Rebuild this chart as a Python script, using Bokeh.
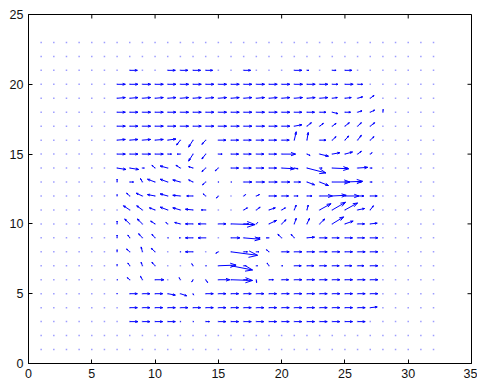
import numpy as np
from bokeh.plotting import figure
from bokeh.models import Range1d, FixedTicker
from bokeh.embed import file_html
from bokeh.resources import INLINE

# ---------------- data ----------------
X_TICKS = [0, 5, 10, 15, 20, 25, 30, 35]
Y_TICKS = [0, 5, 10, 15, 20, 25]

GRID_X = [1, 2, 3, 4, 5, 6, 7, 8, 9, 10, 11, 12, 13, 14, 15, 16,
          17, 18, 19, 20, 21, 22, 23, 24, 25, 26, 27, 28, 29, 30, 31, 32]
GRID_Y = [1, 2, 3, 4, 5, 6, 7, 8, 9, 10, 11, 12, 13, 14, 15, 16,
          17, 18, 19, 20, 21, 22, 23]

# columns x = 7 .. 28 carry the measured vectors (others are zero)
FIELD_X = [7, 8, 9, 10, 11, 12, 13, 14, 15, 16, 17, 18, 19, 20, 21, 22, 23, 24, 25, 26, 27, 28]

u_y21 = [0, .6, 0, 0, .6, .6, .6, .55, 0, 0, .55, 0, 0, 0, .6, .15, 0, .3, .55, 0, 0, 0]
v_y21 = [0, 0, 0, 0, 0, 0, 0, 0, 0, 0, 0, 0, 0, 0, 0, 0, 0, 0, 0, 0, 0, 0]

u_y20 = [.65, .65, .65, .65, .65, .65, .65, .65, .65, .65, .65, .65, .65, .65, .65, .65, .65, .45, .65, .4, 0, 0]
v_y20 = [0, 0, 0, 0, 0, 0, 0, 0, 0, 0, 0, 0, 0, 0, 0, 0, 0, 0, 0, 0, 0, 0]

u_y19 = [.65, .65, .65, .65, .65, .65, .65, .65, .65, .65, .65, .65, .65, .65, .65, .65, .65, .4, .5, .4, .3, 0]
v_y19 = [.05, .05, .05, .05, .05, .05, .05, .05, .05, .05, .05, .05, .05, .05, .05, .05, .05, .05, .05, .1, .2, 0]

u_y18 = [.65, .65, .65, .65, .65, .65, .65, .65, .65, .65, .65, .65, .65, .65, .6, .6, .5, .45, .45, .35, .35, .02]
v_y18 = [0, 0, 0, 0, 0, 0, 0, 0, 0, 0, 0, 0, 0, 0, 0, 0, 0, -.1, 0, .1, .15, .2]

u_y17 = [.65, .65, .65, .65, .65, .65, .65, .65, .65, .65, .65, .65, .65, .65, .6, .35, .3, .3, .35, .3, .35, 0]
v_y17 = [0, 0, 0, 0, 0, 0, 0, 0, 0, 0, 0, 0, 0, 0, .1, .25, .2, .2, .25, .25, .25, 0]

u_y16 = [.65, .65, .65, .65, .65, -.3, -.35, -.3, .6, .6, .6, .6, .6, .6, .15, .1, .5, .3, .3, .3, .3, 0]
v_y16 = [.05, .05, .05, .05, .08, -.35, -.5, -.3, 0, 0, 0, 0, 0, 0, .6, .55, 0, .25, .3, .35, .25, 0]

u_y15 = [.65, .65, .65, .65, .3, -.25, -.35, -.3, .3, .6, .6, .6, .6, 1.1, 0, .25, .7, .6, .6, .3, .15, 0]
v_y15 = [0, 0, 0, 0, 0, 0, -.5, -.35, 0, 0, 0, 0, 0, 0, 0, -.1, -.15, .1, .15, .2, .1, 0]

u_y14 = [.7, .7, .15, -.25, -.6, -.35, -.35, -.3, -.25, .6, .6, .6, .6, 1.0, .3, 1.5, .2, 1.3, .2, .8, .15, 0]
v_y14 = [-.1, -.1, 0, .2, .15, .2, .1, -.25, -.2, 0, 0, 0, 0, -.05, -.05, -.35, 0, -.05, 0, .05, 0, 0]

u_y13 = [0, .3, -.15, -.6, -.6, -.6, -.35, -.25, .05, .05, .65, .65, .65, .65, .5, .6, .7, 1.4, 1.4, .3, .15, 0]
v_y13 = [.2, 0, .25, .2, .2, .15, .15, -.2, 0, 0, 0, 0, 0, 0, 0, -.2, -.25, 0, .05, 0, 0, 0]

u_y12 = [0, -.25, -.5, -.6, -.6, -.6, -.5, -.2, -.15, 0, .15, .25, .6, .55, .3, .4, 1.0, 1.1, 1.1, .5, .55, 0]
v_y12 = [.1, .2, .2, .1, .15, .05, 0, .15, -.15, 0, .1, .1, 0, 0, 0, 0, 0, .05, 0, 0, 0, 0]

u_y11 = [0, -.5, -.45, -.45, -.6, -.6, -.6, -.35, 0, 0, .3, .3, .5, .3, .15, .1, .9, 1.05, 1.0, .55, .25, 0]
v_y11 = [0, .3, .3, .15, .2, .15, .05, 0, 0, 0, .15, .2, .15, .15, .35, .35, .45, .55, .5, .1, .3, 0]

u_y10 = [0, -.4, -.4, -.35, -.15, -.45, -.6, -.6, .6, 1.9, .4, .1, .6, .35, .15, .2, .4, .9, .65, .55, .55, 0]
v_y10 = [.2, .35, .35, .2, .1, .1, 0, 0, 0, -.05, 0, .1, .25, .3, .4, .4, .35, .5, .2, 0, .05, 0]

u_y9 = [0, -.15, -.3, -.25, .05, -.1, -.6, -.6, 0, .7, 1.3, .3, -.2, -.3, -.25, .6, .6, .55, .6, .55, .6, 0]
v_y9 = [.2, .2, .3, .25, 0, 0, 0, 0, 0, 0, -.1, 0, 0, .25, .25, .05, 0, 0, 0, 0, 0, 0]

u_y8 = [0, -.25, -.1, -.3, 0, .05, -.6, 0, -.2, 2.1, .3, .2, -.2, .6, .6, .6, .6, .6, .6, .6, .6, 0]
v_y8 = [.15, .2, .35, .25, 0, 0, 0, 0, -.1, -.25, 0, 0, .15, 0, 0, 0, 0, 0, 0, 0, 0, 0]

u_y7 = [0, -.15, -.1, -.25, 0, 0, -.1, .05, 1.4, 1.7, .2, .1, -.15, .1, .55, .55, .55, .55, .55, .5, .6, 0]
v_y7 = [.1, .2, .25, .25, 0, 0, .15, 0, .05, -.3, 0, 0, .2, 0, 0, 0, 0, 0, 0, 0, 0, 0]

u_y6 = [.05, -.2, -.15, .7, 0, -.1, -.1, .15, .9, 1.7, .3, .02, .35, .55, .6, .6, .6, .6, .6, .6, .6, 0]
v_y6 = [0, .15, .25, 0, 0, .15, -.15, -.2, 0, -.05, 0, -.2, 0, 0, 0, 0, 0, 0, 0, 0, 0, 0]

u_y5 = [0, .6, .6, .6, .6, .5, .05, .6, .6, .6, .6, .6, .6, .6, .6, .6, .6, .6, .6, .6, .6, 0]
v_y5 = [.05, 0, 0, 0, -.1, -.15, -.1, 0, 0, 0, 0, 0, 0, 0, 0, 0, 0, 0, 0, 0, 0, 0]

u_y4 = [0, .6, .6, .6, .6, .6, .6, .6, .6, .6, .6, .6, .6, .6, .6, .6, .6, .6, .6, .6, .55, 0]
v_y4 = [0, 0, 0, 0, 0, 0, 0, 0, 0, 0, 0, 0, 0, 0, 0, 0, 0, 0, 0, 0, .05, 0]

u_y3 = [0, .65, .6, .6, .6, .05, .05, .3, .6, .6, .6, .6, .6, .6, .6, .6, .6, .6, .6, .6, 0, 0]
v_y3 = [0, 0, 0, 0, 0, 0, 0, 0, 0, 0, 0, 0, 0, 0, 0, 0, 0, 0, 0, 0, 0, 0]

FIELD_ROWS = {
    21: (u_y21, v_y21), 20: (u_y20, v_y20), 19: (u_y19, v_y19), 18: (u_y18, v_y18),
    17: (u_y17, v_y17), 16: (u_y16, v_y16), 15: (u_y15, v_y15), 14: (u_y14, v_y14),
    13: (u_y13, v_y13), 12: (u_y12, v_y12), 11: (u_y11, v_y11), 10: (u_y10, v_y10),
    9: (u_y9, v_y9), 8: (u_y8, v_y8), 7: (u_y7, v_y7), 6: (u_y6, v_y6),
    5: (u_y5, v_y5), 4: (u_y4, v_y4), 3: (u_y3, v_y3),
}

# ---------------- build quiver segments ----------------
ALPHA = 0.33   # head length relative to vector
BETA = 0.33    # head half-width relative to vector
EPS = 1e-9

x0s, y0s, x1s, y1s = [], [], [], []
for yv, (urow, vrow) in FIELD_ROWS.items():
    for xv, u, v in zip(FIELD_X, urow, vrow):
        if u == 0 and v == 0:
            continue
        hx, hy = xv + u, yv + v
        x0s.append(xv); y0s.append(yv); x1s.append(hx); y1s.append(hy)
        bx1 = hx - ALPHA * (u + BETA * (v + EPS))
        by1 = hy - ALPHA * (v - BETA * (u + EPS))
        bx2 = hx - ALPHA * (u - BETA * (v + EPS))
        by2 = hy - ALPHA * (v + BETA * (u + EPS))
        x0s += [bx1, bx2]; y0s += [by1, by2]
        x1s += [hx, hx]; y1s += [hy, hy]

gx, gy = np.meshgrid(GRID_X, GRID_Y)

# ---------------- figure ----------------
p = figure(width=477, height=385, x_range=Range1d(0, 35), y_range=Range1d(0, 25),
           output_backend="svg", toolbar_location=None,
           min_border_left=28, min_border_right=6, min_border_top=14, min_border_bottom=22)
p.xgrid.visible = False
p.ygrid.visible = False
p.outline_line_color = "black"
p.outline_line_width = 1
p.background_fill_color = "white"
p.border_fill_color = "white"

p.scatter(gx.ravel(), gy.ravel(), marker="square", size=1.5, fill_color="#3b3bff",
          fill_alpha=0.5, line_color=None)
p.segment(x0s, y0s, x1s, y1s, line_color="#0000ff", line_width=1)

# inward ticks on the top and right edges of the box (MATLAB style)
p.ray(x=X_TICKS, y=[25] * len(X_TICKS), length=4, length_units="screen",
      angle=-np.pi / 2, line_color="black", line_width=1)
p.ray(x=[35] * len(Y_TICKS), y=Y_TICKS, length=4, length_units="screen",
      angle=np.pi, line_color="black", line_width=1)

FONT = "Liberation Sans"
for ax, ticks in ((p.xaxis[0], X_TICKS), (p.yaxis[0], Y_TICKS)):
    ax.ticker = FixedTicker(ticks=ticks)
    ax.major_tick_in = 4
    ax.major_tick_out = 0
    ax.minor_tick_line_color = None
    ax.axis_line_color = "black"
    ax.major_tick_line_color = "black"
    ax.major_label_text_font = FONT
    ax.major_label_text_font_size = "12.5px"
    ax.major_label_text_color = "#111111"
p.xaxis[0].major_label_standoff = 5
p.yaxis[0].major_label_standoff = 5

open("out.html", "w").write(file_html(p, INLINE))
